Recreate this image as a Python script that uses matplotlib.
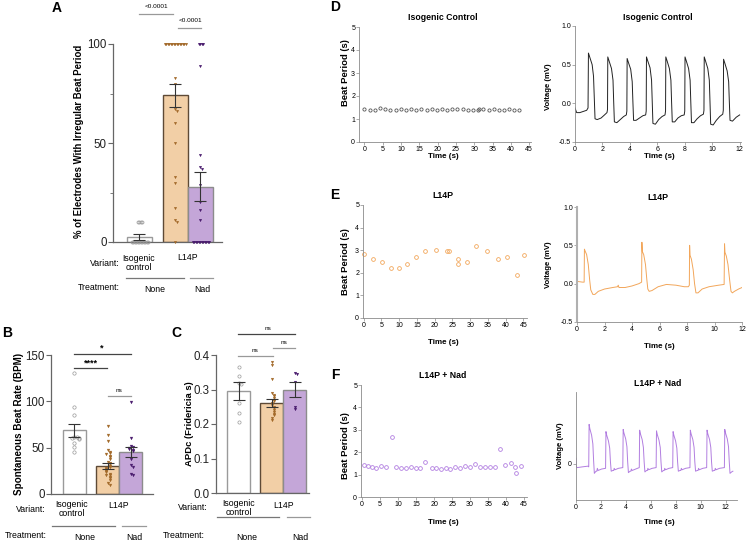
import matplotlib
matplotlib.use('Agg')
import matplotlib.pyplot as plt
from matplotlib.lines import Line2D

plt.rcParams['font.family'] = ['Liberation Sans', 'DejaVu Sans']

# ---------------- data ----------------
# A: % electrodes with irregular beat period
irr_mean = [2.5, 74, 28]
irr_sem = [1.5, 6, 7.5]
irr_ctrl = [10, 10, 10, 10] + [0] * 12
irr_l14p = [100] * 15 + [83, 80, 67, 66, 60, 50, 33, 30, 17, 11, 10, 0]
irr_nad = [100] * 4 + [89, 44, 38, 37, 29, 20, 16, 11] + [0] * 12

# B: spontaneous beat rate (BPM)
bpm_mean = [69, 30, 45]
bpm_sem = [7, 3, 5.5]
bpm_ctrl = [131, 94, 85, 62, 61, 60, 60, 59, 55, 51, 45]
bpm_l14p = [73, 64, 57, 47, 45, 44, 43, 41, 40, 38, 35, 33, 32, 30, 29, 28,
            27, 26, 25, 24, 22, 21, 20, 18, 17, 15, 12, 10]
bpm_nad = [99, 60, 52, 51, 50, 49, 47, 46, 38, 31, 29, 22, 20]

# C: APDc (Fridericia s)
apd_mean = [0.296, 0.26, 0.30]
apd_sem = [0.025, 0.012, 0.022]
apd_ctrl = [0.365, 0.340, 0.318, 0.316, 0.26, 0.233, 0.205]
apd_l14p = [0.38, 0.372, 0.33, 0.29, 0.285, 0.28, 0.275, 0.27, 0.268, 0.262,
            0.255, 0.25, 0.245, 0.24, 0.235, 0.23, 0.225, 0.218, 0.212]
apd_nad = [0.347, 0.344, 0.322, 0.25, 0.243]

# D-F left: beat period vs time
D_t = [0.0, 1.4, 2.8, 4.3, 5.7, 7.1, 8.5, 9.9, 11.3, 12.7, 14.1, 15.5, 17.0,
       18.4, 19.8, 21.2, 22.6, 24.0, 25.4, 26.8, 28.2, 29.6, 31.0, 31.4, 32.5,
       33.9, 35.3, 36.7, 38.1, 39.5, 40.9, 42.3]
D_bp = [1.42, 1.40, 1.41, 1.50, 1.42, 1.40, 1.41, 1.43, 1.40, 1.42, 1.41, 1.43,
        1.40, 1.42, 1.41, 1.42, 1.40, 1.42, 1.43, 1.45, 1.41, 1.40, 1.39, 1.45,
        1.42, 1.41, 1.42, 1.40, 1.41, 1.42, 1.41, 1.41]
E_t = [0.0, 2.6, 5.15, 7.7, 10.0, 12.2, 14.7, 17.3, 20.3, 23.4, 23.9, 26.5,
       26.6, 29.0, 31.7, 34.8, 37.8, 40.5, 43.3, 45.2]
E_bp = [2.83, 2.60, 2.49, 2.20, 2.20, 2.40, 2.70, 2.98, 3.00, 2.98, 2.98, 2.61,
        2.40, 2.49, 3.20, 2.95, 2.61, 2.71, 1.90, 2.80]
F_t = [0.5, 1.6, 2.66, 3.88, 5.28, 6.68, 8.18, 9.49, 10.79, 12.2, 13.6, 14.9,
       16.2, 17.4, 19.3, 20.5, 21.8, 23.2, 24.5, 25.75, 27.1, 28.6, 29.9, 31.4,
       32.7, 34.1, 35.5, 37.0, 38.4, 39.8, 41.3, 42.6, 42.85, 44.1]
F_bp = [1.45, 1.38, 1.35, 1.29, 1.40, 1.34, 2.69, 1.34, 1.28, 1.31, 1.34, 1.31,
        1.29, 1.55, 1.31, 1.29, 1.26, 1.31, 1.25, 1.34, 1.31, 1.37, 1.34, 1.46,
        1.34, 1.32, 1.32, 1.32, 2.14, 1.41, 1.50, 1.32, 1.09, 1.38]

# D-F right: voltage traces (vertices)
D_time = [0.00, 0.12, 0.35, 0.85, 0.95,
          0.98, 1.07, 1.25, 1.35, 1.41, 1.46, 1.62, 1.90, 2.15, 2.33, 2.37,
          2.39, 2.48, 2.66, 2.77, 2.82, 2.87, 3.05, 3.30, 3.55, 3.74, 3.78,
          3.80, 3.89, 4.06, 4.17, 4.22, 4.27, 4.45, 4.70, 4.95, 5.15, 5.19,
          5.21, 5.30, 5.47, 5.58, 5.63, 5.68, 5.86, 6.10, 6.35, 6.56, 6.60,
          6.62, 6.71, 6.88, 6.99, 7.04, 7.09, 7.27, 7.50, 7.75, 7.96, 8.00,
          8.02, 8.11, 8.28, 8.39, 8.44, 8.49, 8.67, 8.90, 9.15, 9.36, 9.40,
          9.42, 9.51, 9.68, 9.79, 9.84, 9.89, 10.07, 10.30, 10.55, 10.77, 10.81,
          10.83, 10.92, 11.09, 11.20, 11.25, 11.30, 11.48, 11.75, 12.00]
D_volt = [-0.06, -0.12, -0.12, -0.09, -0.06,
          0.65, 0.60, 0.50, 0.35, 0.05, -0.20, -0.21, -0.19, -0.15, -0.12, -0.08,
          0.60, 0.55, 0.45, 0.30, 0.02, -0.24, -0.25, -0.21, -0.17, -0.15, -0.10,
          0.58, 0.53, 0.44, 0.28, 0.02, -0.22, -0.22, -0.19, -0.16, -0.15, -0.10,
          0.60, 0.55, 0.46, 0.30, 0.02, -0.26, -0.27, -0.21, -0.17, -0.15, -0.10,
          0.60, 0.55, 0.45, 0.30, 0.02, -0.24, -0.24, -0.19, -0.16, -0.15, -0.10,
          0.60, 0.55, 0.45, 0.30, 0.02, -0.25, -0.25, -0.20, -0.16, -0.14, -0.09,
          0.60, 0.55, 0.45, 0.30, 0.02, -0.27, -0.28, -0.22, -0.17, -0.14, -0.09,
          0.57, 0.52, 0.42, 0.28, 0.02, -0.22, -0.23, -0.18, -0.15]

E_time = [0.00, 0.40, 0.52, 0.54, 0.58, 0.70, 0.82, 0.92, 1.00, 1.15, 1.30, 1.55,
          2.00, 2.60, 2.95, 3.00, 3.05, 3.50, 4.00, 4.50, 4.70,
          4.72, 4.75, 4.85, 4.98, 5.08, 5.15, 5.25, 5.45, 5.90, 6.50, 7.20, 7.80,
          8.10, 8.17, 8.19, 8.22, 8.32, 8.45, 8.55, 8.65, 8.80, 9.10, 9.60, 10.30,
          10.70, 10.73, 10.76, 10.86, 10.98, 11.10, 11.20, 11.30, 11.45, 11.75, 12.00]
E_volt = [0.03, 0.02, 0.02, 0.45, 0.43, 0.38, 0.25, 0.05, -0.08, -0.14, -0.14, -0.10,
          -0.07, -0.05, -0.04, -0.02, -0.05, -0.05, -0.03, 0.00, 0.02,
          0.54, 0.42, 0.38, 0.25, 0.05, -0.07, -0.10, -0.09, -0.04, -0.01, -0.02, -0.04,
          -0.04, -0.02, 0.50, 0.37, 0.32, 0.18, 0.00, -0.12, -0.12, -0.07, -0.04, -0.02,
          -0.01, 0.52, 0.41, 0.36, 0.25, 0.05, -0.10, -0.12, -0.10, -0.07, -0.05]

F_time = [0.00, 0.03, 0.10, 0.50, 0.95, 1.02,
          1.05, 1.11, 1.25, 1.35, 1.41, 1.47, 1.60, 1.67, 1.71, 1.77, 2.05, 2.37,
          2.40, 2.46, 2.60, 2.70, 2.76, 2.82, 2.95, 3.02, 3.06, 3.12, 3.40, 3.75,
          3.78, 3.84, 3.98, 4.08, 4.14, 4.20, 4.33, 4.40, 4.44, 4.50, 4.78, 5.07,
          5.10, 5.16, 5.30, 5.40, 5.46, 5.52, 5.65, 5.72, 5.76, 5.82, 6.10, 6.42,
          6.45, 6.51, 6.65, 6.75, 6.81, 6.87, 7.00, 7.07, 7.11, 7.17, 7.45, 7.75,
          7.78, 7.84, 7.98, 8.08, 8.14, 8.20, 8.33, 8.40, 8.44, 8.50, 8.78, 9.13,
          9.16, 9.22, 9.36, 9.46, 9.52, 9.58, 9.71, 9.78, 9.82, 9.88, 10.16, 10.47,
          10.50, 10.56, 10.70, 10.80, 10.86, 10.92, 11.05, 11.12, 11.16, 11.22, 11.50, 11.89,
          11.92, 11.98, 12.12, 12.22, 12.28, 12.34, 12.47, 12.57]
F_volt = [0.08, -0.04, -0.05, -0.04, -0.03, -0.04,
          0.55, 0.49, 0.40, 0.28, 0.05, -0.13, -0.10, -0.10, -0.06, -0.09, -0.07, -0.06,
          0.45, 0.40, 0.32, 0.22, 0.03, -0.10, -0.09, -0.09, -0.06, -0.08, -0.06, -0.05,
          0.48, 0.43, 0.35, 0.24, 0.03, -0.12, -0.10, -0.10, -0.07, -0.09, -0.07, -0.05,
          0.47, 0.42, 0.34, 0.23, 0.03, -0.11, -0.09, -0.09, -0.06, -0.08, -0.06, -0.05,
          0.46, 0.41, 0.33, 0.23, 0.03, -0.11, -0.09, -0.09, -0.06, -0.08, -0.06, -0.05,
          0.45, 0.40, 0.32, 0.22, 0.03, -0.10, -0.09, -0.09, -0.06, -0.08, -0.06, -0.05,
          0.47, 0.42, 0.34, 0.23, 0.03, -0.10, -0.09, -0.09, -0.06, -0.08, -0.06, -0.05,
          0.47, 0.42, 0.34, 0.23, 0.03, -0.10, -0.09, -0.09, -0.06, -0.08, -0.06, -0.05,
          0.48, 0.43, 0.35, 0.24, 0.03, -0.13, -0.11, -0.10]

# ---------------- style ----------------
W, H = 748, 543
CTRL_C = '#9a9a9a'
L14P_FILL, L14P_PT, L14P_EDGE = '#f2cfa6', '#a36a2a', '#5e4a36'
NAD_FILL, NAD_PT, NAD_EDGE = '#c4a6d8', '#4a1c6e', '#8c8c8c'
E_LINE, F_LINE = '#f2a65a', '#b27ee0'
pos = [0, 1.45, 2.45]

fig = plt.figure(figsize=(W / 100, H / 100), dpi=100)


def add_ax(l, t, r, b):
    return fig.add_axes([l / W, 1 - b / H, (r - l) / W, (b - t) / H])


def ftext(x, y, s, **kw):
    kw.setdefault('ha', 'center')
    kw.setdefault('va', 'center')
    fig.text(x / W, 1 - y / H, s, **kw)


def fline(x0, x1, y, color='#999999', lw=0.9):
    fig.add_artist(Line2D([x0 / W, x1 / W], [1 - y / H] * 2, color=color, lw=lw))


def swarm(vals, dy, step):
    offs, placed = [], []
    for v in vals:
        k = sum(1 for p in placed if abs(p - v) < dy)
        offs.append(((k + 1) // 2) * step * (1 if k % 2 else -1))
        placed.append(v)
    return offs


def bar_panel(ax, means, sems, pts, dy, step, ms):
    ax.bar(pos[0], means[0], width=1, color='white', edgecolor=CTRL_C, lw=1.0, zorder=1)
    ax.bar(pos[1], means[1], width=1, color=L14P_FILL, edgecolor=L14P_EDGE, lw=1.0, zorder=1)
    ax.bar(pos[2], means[2], width=1, color=NAD_FILL, edgecolor=NAD_EDGE, lw=1.0, zorder=1)
    styles = [dict(marker='o', mfc='none', mec=CTRL_C, mew=0.5, ms=ms + 0.3),
              dict(marker='v', mfc=L14P_PT, mec=L14P_PT, mew=0.2, ms=ms),
              dict(marker='v', mfc=NAD_PT, mec=NAD_PT, mew=0.2, ms=ms)]
    for p, vals, st in zip(pos, pts, styles):
        offs = swarm(vals, dy, step)
        ax.plot([p + o for o in offs], vals, ls='none', zorder=3,
                clip_on=False, **st)
    ax.errorbar(pos, means, yerr=sems, fmt='none', ecolor='#333333', elinewidth=0.8,
                capsize=4.5, capthick=0.8, zorder=4)
    for s in ['top', 'right']:
        ax.spines[s].set_visible(False)
    for s in ['left', 'bottom']:
        ax.spines[s].set_color('#666666')
        ax.spines[s].set_linewidth(0.9)
    ax.set_xticks([])
    ax.tick_params(axis='y', labelsize=8.3, length=3.5, width=0.8, color='#666666',
                   pad=1, labelcolor='#222222')


def small_axes(ax):
    for s in ['top', 'right']:
        ax.spines[s].set_visible(False)
    for s in ['left', 'bottom']:
        ax.spines[s].set_color('#8a8a8a')
        ax.spines[s].set_linewidth(0.6)
    ax.tick_params(labelsize=5, length=2, width=0.5, color='#8a8a8a', pad=0.8)


# ---------------- panel A ----------------
axA = add_ax(113, 44, 222, 242)
bar_panel(axA, irr_mean, irr_sem, [irr_ctrl, irr_l14p, irr_nad], 1.5, 0.06, 1.9)
axA.set_xlim(-1.04, 3.32)
axA.set_ylim(0, 100)
axA.set_yticks([0, 50, 100])
axA.set_yticks([25, 75], minor=True)
axA.tick_params(axis='y', which='minor', length=2, width=0.6, color='#666666')
ftext(57, 8, 'A', fontsize=10, fontweight='bold')
ftext(79, 141, '% of Electrodes With Irregular Beat Period', rotation=90,
      fontsize=6.9, fontweight='bold')
fline(139, 173, 14)
ftext(156, 6, '<0.0001', fontsize=4.6)
fline(178, 201, 28)
ftext(190, 20, '<0.0001', fontsize=4.6)
ftext(120, 263, 'Variant:', ha='right', fontsize=6.3)
ftext(139, 263, 'Isogenic\ncontrol', fontsize=6.3, linespacing=1.1)
ftext(188, 258, 'L14P', fontsize=6.3)
fline(126, 184, 278, '#777777')
fline(190, 213, 278, '#999999')
ftext(120, 287, 'Treatment:', ha='right', fontsize=6.3)
ftext(155, 289, 'None', fontsize=6.3)
ftext(202, 290, 'Nad', fontsize=6.3)

# ---------------- panel B ----------------
axB = add_ax(51, 355, 153, 494)
bar_panel(axB, bpm_mean, bpm_sem, [bpm_ctrl, bpm_l14p, bpm_nad], 2.5, 0.1, 2.1)
axB.set_xlim(-1.02, 3.41)
axB.set_ylim(0, 150)
axB.set_yticks([0, 50, 100, 150])
ftext(7, 333, 'B', fontsize=10, fontweight='bold')
ftext(19, 424, 'Spontaneous Beat Rate (BPM)', rotation=90, fontsize=7.1,
      fontweight='bold')
fline(74, 131, 354, '#444444')
ftext(102, 348, '*', fontsize=6.5, fontweight='bold')
fline(74, 107, 368, '#444444')
ftext(91, 363, '****', fontsize=6.5, fontweight='bold')
fline(108, 131, 396)
ftext(119, 390, 'ns', fontsize=4.6)
ftext(46, 509, 'Variant:', ha='right', fontsize=6.3)
ftext(72, 509, 'Isogenic\ncontrol', fontsize=6.3, linespacing=1.1)
ftext(119, 506, 'L14P', fontsize=6.3)
fline(52, 115, 526, '#777777')
fline(122, 146, 526, '#999999')
ftext(47, 535, 'Treatment:', ha='right', fontsize=6.3)
ftext(85, 538, 'None', fontsize=6.3)
ftext(134, 538, 'Nad', fontsize=6.3)

# ---------------- panel C ----------------
axC = add_ax(216, 355, 309, 493)
bar_panel(axC, apd_mean, apd_sem, [apd_ctrl, apd_l14p, apd_nad], 0.006, 0.1, 2.0)
axC.set_xlim(-0.98, 3.07)
axC.set_ylim(0, 0.4)
axC.set_yticks([0.0, 0.1, 0.2, 0.3, 0.4])
axC.set_yticklabels(['0.0', '0.1', '0.2', '0.3', '0.4'])
ftext(176, 333, 'C', fontsize=10, fontweight='bold')
ftext(189, 424, 'APDc (Fridericia s)', rotation=90, fontsize=6.8, fontweight='bold')
fline(238, 295, 334, '#444444')
ftext(268, 328, 'ns', fontsize=4.6)
fline(238, 273, 356)
ftext(255, 350, 'ns', fontsize=4.6)
fline(273, 295, 348)
ftext(284, 342, 'ns', fontsize=4.6)
ftext(208, 508, 'Variant:', ha='right', fontsize=6.3)
ftext(239, 508, 'Isogenic\ncontrol', fontsize=6.3, linespacing=1.1)
ftext(284, 506, 'L14P', fontsize=6.3)
fline(217, 279, 517, '#777777')
fline(287, 310, 517, '#999999')
ftext(205, 535, 'Treatment:', ha='right', fontsize=6.3)
ftext(247, 537, 'None', fontsize=6.3)
ftext(300, 537, 'Nad', fontsize=6.3)


# ---------------- panels D-F ----------------
def scatter_panel(box, t, bp, color, xlim, title, xlabel_y, ylab_y, ms):
    ax = add_ax(*box)
    ax.plot(t, bp, ls='none', marker='o', mfc='none', mec=color, mew=0.6, ms=ms,
            clip_on=False)
    ax.set_xlim(*xlim)
    ax.set_ylim(0, 5)
    ax.set_xticks(range(0, 50, 5))
    ax.set_yticks(range(0, 6))
    small_axes(ax)
    ftext(443, box[1] - 10, title, fontsize=6.3, fontweight='bold')
    ftext(443, xlabel_y, 'Time (s)', fontsize=5.8, fontweight='bold')
    ftext(346, ylab_y, 'Beat Period (s)', rotation=90, fontsize=6.8, fontweight='bold')
    return ax


def trace_panel(box, tt, vv, color, xlim, title, title_y, xlabel_y, ylab_x, ylab_y,
                yticks, lw):
    ax = add_ax(*box)
    ax.plot(tt, vv, color=color, lw=lw)
    ax.set_xlim(*xlim)
    ax.set_ylim(-0.5, 1.0)
    ax.set_xticks(range(0, 13, 2))
    ax.set_yticks(yticks)
    ax.set_yticklabels(['%.1f' % v if len(yticks) > 1 else '0' for v in yticks])
    small_axes(ax)
    ftext(658, title_y, title, fontsize=6.3, fontweight='bold')
    ftext(659, xlabel_y, 'Time (s)', fontsize=5.8, fontweight='bold')
    ftext(ylab_x, ylab_y, 'Voltage (mV)', rotation=90, fontsize=5.6, fontweight='bold')
    return ax


scatter_panel((359, 27, 531, 142), D_t, D_bp, '#555555', (-1.5, 45.5),
              'Isogenic Control', 157, 73, 2.3)
scatter_panel((363, 205, 527, 318), E_t, E_bp, E_LINE, (-0.2, 46),
              'L14P', 342, 262, 2.7)
scatter_panel((361, 385, 527, 497), F_t, F_bp, F_LINE, (-0.3, 45.8),
              'L14P + Nad', 523, 446, 2.7)
ftext(335, 7, 'D', fontsize=10, fontweight='bold')
ftext(335, 195, 'E', fontsize=10, fontweight='bold')
ftext(335, 375, 'F', fontsize=10, fontweight='bold')

trace_panel((575, 26, 741, 142), D_time, D_volt, '#222222', (0, 12.1),
            'Isogenic Control', 17, 157, 548, 87, [-0.5, 0.0, 0.5, 1.0], 0.7)
axE2 = trace_panel((577, 207, 742, 322), E_time, E_volt, E_LINE, (0, 12),
                   'L14P', 198, 346, 549, 265, [-0.5, 0.0, 0.5, 1.0], 0.7)
axE2.spines['left'].set_linewidth(1.5)
axE2.spines['left'].set_color('#b0b0b0')
axF2 = trace_panel((576, 392, 737, 500), F_time, F_volt, F_LINE, (0, 12.9),
                   'L14P + Nad', 383, 522, 560, 446, [0.0], 0.7)

fig.savefig('out.png', dpi=100)
